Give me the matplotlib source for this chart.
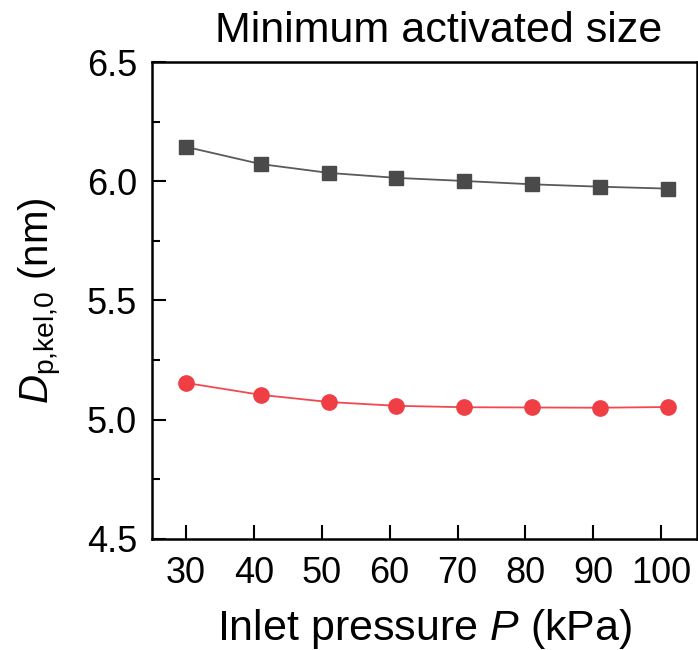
import numpy as np
import matplotlib.pyplot as plt
from matplotlib.ticker import MultipleLocator

plt.rcParams['font.family'] = ['Liberation Sans', 'DejaVu Sans']
plt.rcParams['mathtext.fontset'] = 'custom'
plt.rcParams['mathtext.rm'] = 'Liberation Sans'
plt.rcParams['mathtext.it'] = 'Liberation Sans:italic'

# presion de entrada (kPa) y tamano minimo activado (nm)
presion = [30, 41, 51, 61, 71, 81, 91, 101]
serie_gris = [6.144, 6.072, 6.035, 6.014, 6.001, 5.987, 5.977, 5.969]
serie_roja = [5.154, 5.104, 5.074, 5.058, 5.052, 5.051, 5.050, 5.053]
xticks = [30, 40, 50, 60, 70, 80, 90, 100]
yticks = [4.5, 5.0, 5.5, 6.0, 6.5]

fig = plt.figure(figsize=(6.98, 6.5), dpi=100)
ax = fig.add_axes([0.218, 0.171, 0.7806, 0.7336])

ax.plot(presion, serie_gris, color='#5a5a5a', lw=1.3, marker='s', ms=9.5,
        mfc='#4a4a4a', mec='#4a4a4a')
ax.plot(presion, serie_roja, color='#f04a50', lw=1.3, marker='o', ms=11,
        mfc='#ef3e44', mec='#ef3e44')

ax.set_xlim(25, 105.3)
ax.set_ylim(4.5, 6.5)
ax.set_xticks(xticks)
ax.set_yticks(yticks)
ax.set_yticklabels([f'{v:.1f}' for v in yticks])
ax.yaxis.set_minor_locator(MultipleLocator(0.25))

ax.tick_params(which='both', direction='in', labelsize=26, width=1.5)
ax.tick_params(which='major', length=10)
ax.tick_params(axis='x', which='major', pad=12)
ax.tick_params(axis='y', which='major', pad=11)
ax.tick_params(which='minor', length=6)
ax.tick_params(axis='x', which='minor', bottom=False)
for s in ax.spines.values():
    s.set_linewidth(1.8)

ax.set_xlabel('Inlet pressure $P$ (kPa)', fontsize=31, labelpad=12)
ax.set_ylabel('$D_{\\mathrm{p{,}kel{,}0}}$ (nm)', fontsize=29, labelpad=16)
fig.text(439 / 698, 1 - 42 / 650, 'Minimum activated size', fontsize=31,
         ha='center', va='baseline')

plt.savefig('out.png', dpi=100)
